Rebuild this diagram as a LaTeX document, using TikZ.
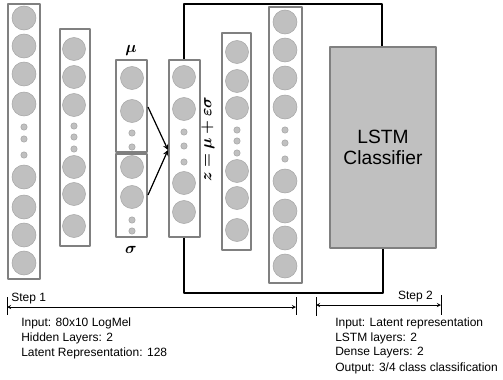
\documentclass[tikz,border=0pt]{standalone}
\usepackage{fontspec}
\setmainfont{Liberation Sans}
\usepackage{bm}
\definecolor{unitgray}{RGB}{192,192,192}
\definecolor{rimgray}{RGB}{166,166,166}
\definecolor{boxgray}{RGB}{128,128,128}
\tikzset{
  layer/.style={draw=boxgray,line width=1.4pt,fill=white},
  unit/.style={fill=unitgray,draw=rimgray,line width=.4pt},
  frame/.style={line width=.9pt},
  note/.style={anchor=west,font=\small,inner sep=0pt}
}
\begin{document}
\begin{tikzpicture}[x=.75pt,y=-.75pt,>=stealth,line join=round,font=\small]
	\useasboundingbox (0,0) rectangle (503,379);
	% frame around step 2
	\draw[frame] (184,60)--(184,4)--(382,4)--(382,46) (383,247)--(383,293)--(184,293)--(184,237);
	% input layer
	\draw[layer] (8,4) rectangle (40,279);
	\foreach \y in {18,46,74,104,177,207,235,263} \draw[unit] (24,\y) circle (12);
	\foreach \y in {127,139,155} \draw[unit] (24,\y) circle (3.2);
	% hidden layer
	\draw[layer] (60,29) rectangle (90,246);
	\foreach \y in {49,77,105,167,194,226} \draw[unit] (74,\y) circle (11.5);
	\foreach \y in {126,137,149} \draw[unit] (74,\y) circle (3.2);
	% mu and sigma
	\draw[layer] (116,60) rectangle (147,152);
	\draw[layer] (116,154) rectangle (147,237);
	\foreach \y in {78,111,167,197} \draw[unit] (132,\y) circle (11.5);
	\foreach \y in {133,147,220,231} \draw[unit] (132,\y) circle (3.2);
	\node[font=\large] (mu) at (131,50) {$\bm{\mu}$};
	\node[font=\large] (sigma) at (131,250) {$\bm{\sigma}$};
	% latent layer
	\draw[layer] (169,60) rectangle (200,237);
	\foreach \y in {77,109,183,212} \draw[unit] (184,\y) circle (11.5);
	\foreach \y in {132,146,162} \draw[unit] (184,\y) circle (3.2);
	\node[rotate=90,font=\large,inner sep=0pt] (eq) at (208,139) {$\bm{z=\mu+\varepsilon\sigma}$};
	\coordinate (muout) at (148,107);
	\coordinate (sigout) at (148,195);
	\coordinate (zin) at (168,150);
	\draw[->,line width=.9pt] (muout)--(zin);
	\draw[->,line width=.9pt] (sigout)--(zin);
	% decoder layers
	\draw[layer] (222,33) rectangle (251,250);
	\foreach \y in {52,81,108,171,198,230} \draw[unit] (237,\y) circle (11.5);
	\foreach \y in {130,141,153} \draw[unit] (237,\y) circle (3.2);
	\draw[layer] (269,7) rectangle (302,283);
	\foreach \y in {22,50,78,107,181,211,238,266} \draw[unit] (285,\y) circle (12);
	\foreach \y in {130,143,159} \draw[unit] (285,\y) circle (3.2);
	% classifier
	\node[draw=boxgray,line width=1.4pt,fill=unitgray,minimum width=106*.75pt,minimum height=201*.75pt,
		align=center,font=\Large,anchor=north west] (lstm) at (329,46) {LSTM\\[-2pt]Classifier};
	% steps
	\draw (7,297)--(7,315) (296,297)--(296,315);
	\draw[<->] (7,307)--(296,307);
	\node[note] (s1) at (11,299) {Step 1};
	\draw (316,297)--(316,316) (441,295)--(441,315);
	\draw[<->] (316,305)--(441,305);
	\node[note,anchor=east] (s2) at (433,297) {Step 2};
	\node[note] (t1) at (21,323) {Input: 80x10 LogMel};
	\node[note] (t2) at (21,338) {Hidden Layers: 2};
	\node[note] (t3) at (21,353) {Latent Representation: 128};
	\node[note] (u1) at (335,323) {Input: Latent representation};
	\node[note] (u2) at (335,338) {LSTM layers: 2};
	\node[note] (u3) at (335,353) {Dense Layers: 2};
	\node[note] (u4) at (335,368) {Output: 3/4 class classification};
\end{tikzpicture}
\end{document}
